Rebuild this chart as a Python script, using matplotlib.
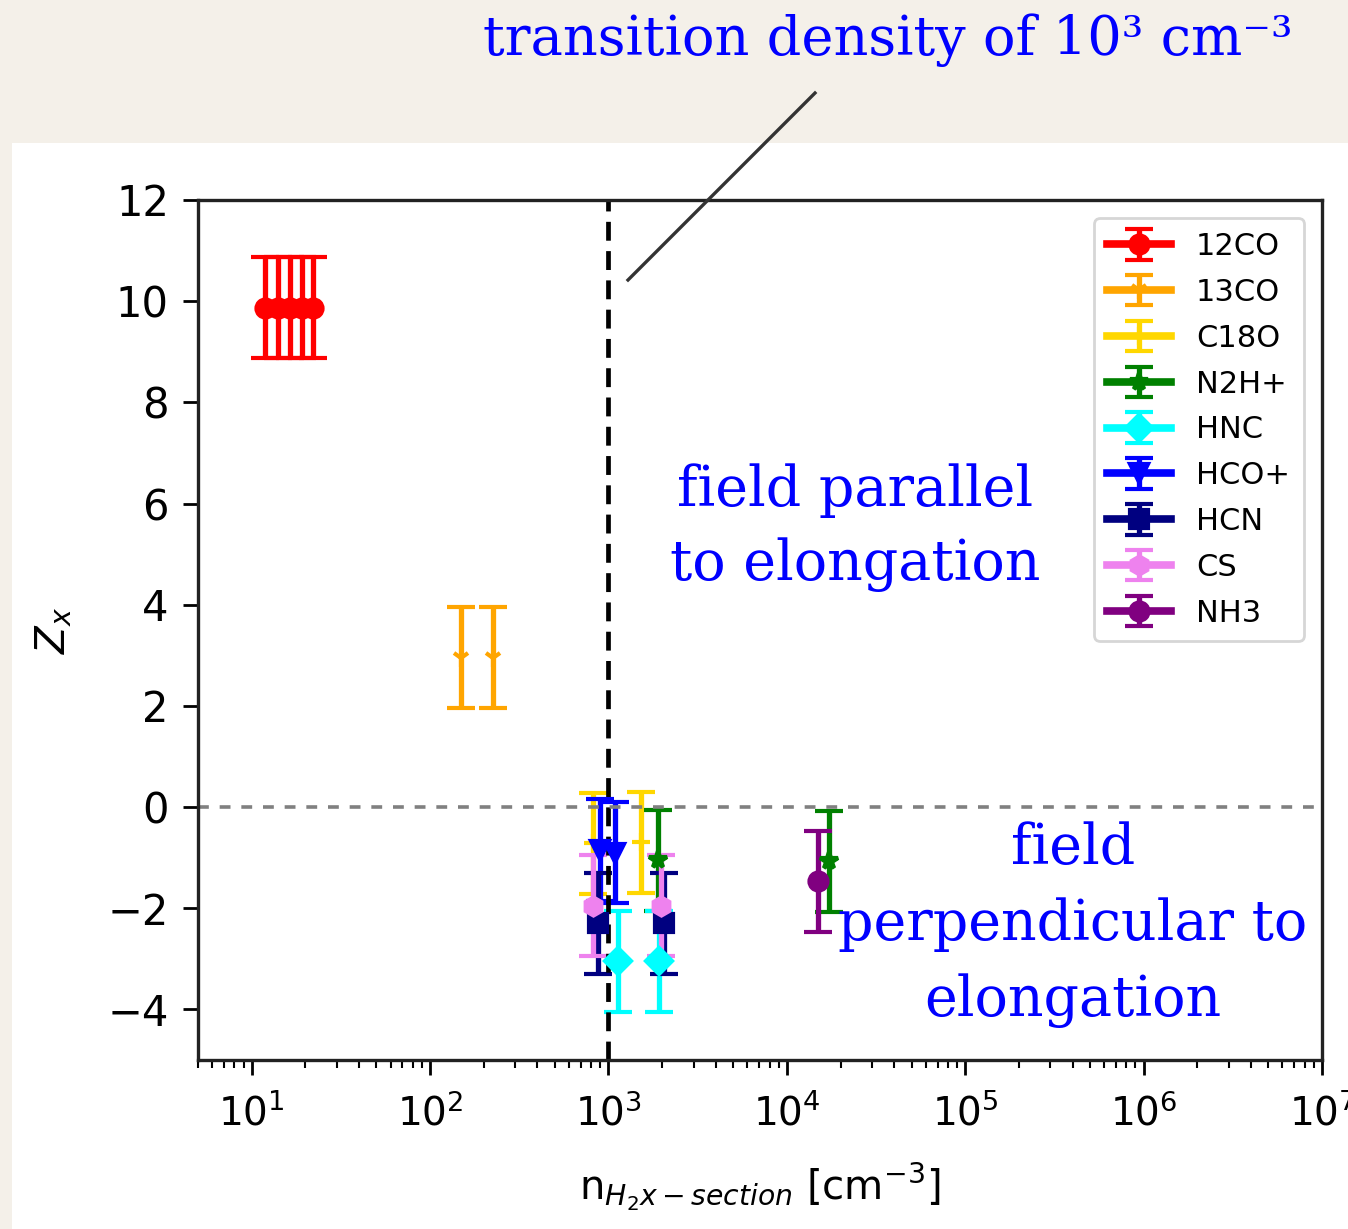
import numpy as np
import matplotlib
matplotlib.use("Agg")
import matplotlib.pyplot as plt
from matplotlib.patches import Rectangle
from matplotlib.lines import Line2D

# species, density points, Z values
species = ["12CO", "13CO", "C18O", "N2H+", "HNC", "HCO+", "HCN", "CS", "NH3"]
colors = ["red", "orange", "gold", "green", "cyan", "blue", "navy", "violet", "purple"]
markers = ["o", "1", "+", "*", "D", "v", "s", "h", "o"]

dens = {
    "12CO": [11.8, 14.0, 16.3, 19.1, 22.0],
    "13CO": [149, 226],
    "C18O": [824, 1514],
    "N2H+": [1884, 17200],
    "HNC": [1138, 1910],
    "HCO+": [902, 1082],
    "HCN": [879, 2040],
    "CS": [824, 1960],
    "NH3": [14900],
}
zval = {
    "12CO": [9.87, 9.87, 9.87, 9.87, 9.87],
    "13CO": [2.95, 2.95],
    "C18O": [-0.72, -0.70],
    "N2H+": [-1.05, -1.07],
    "HNC": [-3.05, -3.05],
    "HCO+": [-0.85, -0.9],
    "HCN": [-2.3, -2.3],
    "CS": [-1.95, -1.95],
    "NH3": [-1.47],
}
zerr = 1.0

W, H = 1348, 1229
fig = plt.figure(figsize=(W / 100, H / 100), dpi=100)
fig.patch.set_facecolor("#f4f0e9")
fig.patches.append(Rectangle((12 / W, 0), 1 - 12 / W, (H - 143) / H,
                             transform=fig.transFigure, facecolor="white",
                             edgecolor="none", zorder=-5))

ax = fig.add_axes([198 / W, 1 - 1060 / H, (1322 - 198) / W, (1060 - 200) / H])
ax.set_zorder(2)

for sp, c, m in zip(species, colors, markers):
    for i, (x, y) in enumerate(zip(dens[sp], zval[sp])):
        ax.errorbar(x, y, yerr=zerr, color=c, marker=m, markersize=13,
                    markeredgewidth=3, elinewidth=3.8, capsize=10, capthick=3.8,
                    linewidth=5.5, label=sp if i == 0 else None)

ax.axvline(1000, color="black", linestyle="--", linewidth=3.4, dashes=(4, 2.2))
ax.axhline(0, color="gray", linestyle="--", linewidth=2.6, dashes=(3, 3))

ax.set_xscale("log")
ax.set_xlim(5, 1e7)
ax.set_ylim(-5, 12)
ax.set_yticks([-4, -2, 0, 2, 4, 6, 8, 10, 12])
ax.tick_params(axis="y", which="major", labelsize=30, length=11, width=2, pad=10)
ax.tick_params(axis="x", which="major", labelsize=28, length=11, width=2, pad=13)
ax.tick_params(axis="both", which="minor", length=6, width=1.5)
for s in ax.spines.values():
    s.set_linewidth(2.4)
    s.set_color("#222222")

ax.set_ylabel(r"$Z_x$", fontsize=29, labelpad=24)
ax.set_xlabel(r"n$_{H_2x-section}$ [cm$^{-3}$]", fontsize=29, labelpad=20)

leg = ax.legend(loc="upper right", fontsize=22, handlelength=2.1,
                labelspacing=0.55, borderpad=0.45, framealpha=0.8,
                edgecolor="#cccccc", borderaxespad=0.6)
leg.get_frame().set_linewidth(2)

serif = ["DejaVu Serif"]
fig.text(888 / W, 1 - 40 / H, "transition density of 10\u00b3 cm\u207b\u00b3",
         color="blue", fontsize=39, family=serif, ha="center", va="center",
         zorder=5)
fig.lines.append(Line2D([815 / W, 628 / W], [1 - 93 / H, 1 - 280 / H],
                        transform=fig.transFigure, color="#333333",
                        linewidth=2.4, zorder=5))
fig.text(855 / W, 1 - 528 / H, "field parallel\nto elongation",
         color="blue", fontsize=40, family=serif, ha="center", va="center",
         linespacing=1.45, zorder=5)
fig.text(1073 / W, 1 - 925 / H, "field\nperpendicular to\nelongation",
         color="blue", fontsize=40, family=serif, ha="center", va="center",
         linespacing=1.5, zorder=5)

fig.savefig("out.png", dpi=100)
